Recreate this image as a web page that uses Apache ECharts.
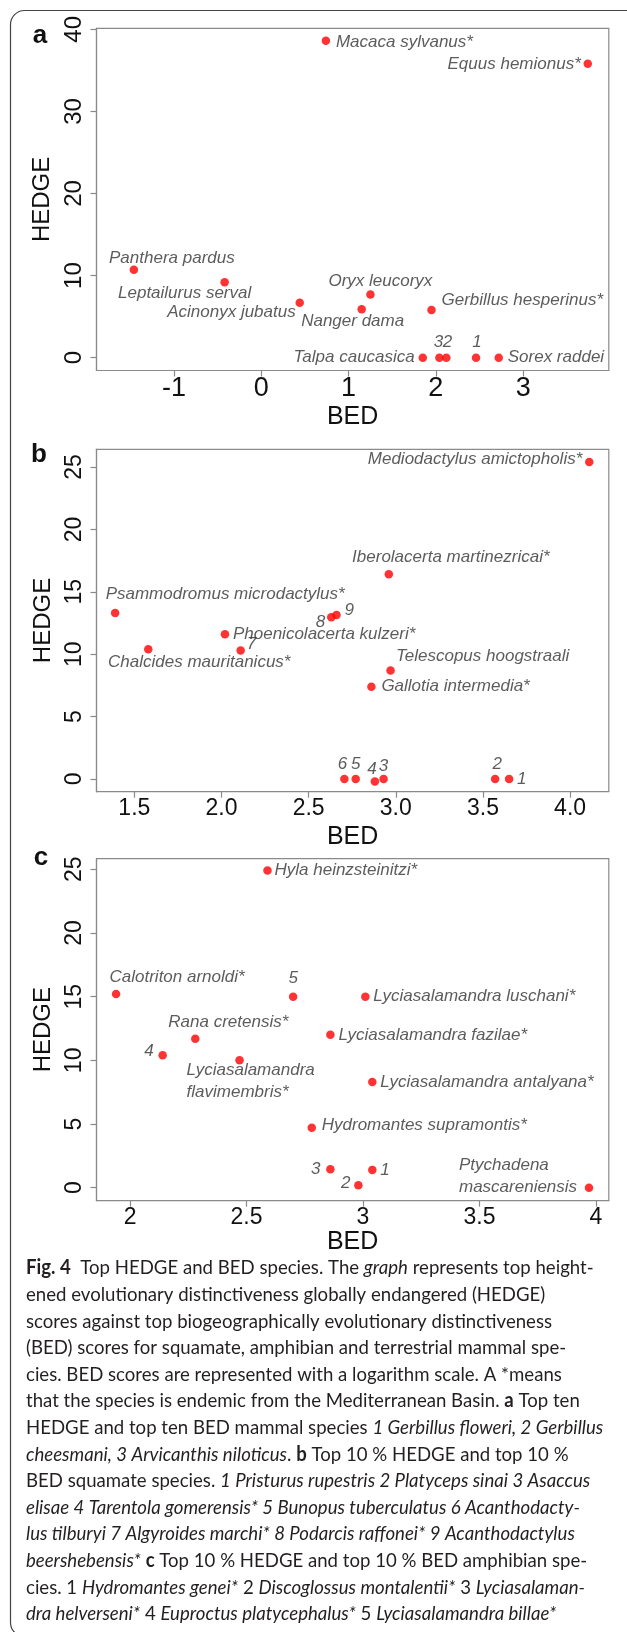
<!DOCTYPE html>
<html><head><meta charset="utf-8">
<script src="https://cdn.jsdelivr.net/npm/echarts@6/dist/echarts.min.js"></script>
<style>html,body{margin:0;padding:0;background:#fff}#c{width:627px;height:1632px}</style>
</head><body><div id="c"></div>
<script>
// ---------- Panel a: mammals ----------
const namesA = ['Macaca sylvanus*','Equus hemionus*','Panthera pardus','Leptailurus serval','Acinonyx jubatus','Oryx leucoryx','Nanger dama','Gerbillus hesperinus*','Talpa caucasica','3','2','1','Sorex raddei'];
const bedA   = [0.74, 3.74, -1.46, -0.42, 0.44, 1.25, 1.15, 1.95, 1.85, 2.04, 2.12, 2.46, 2.72];
const hedgeA = [38.6, 35.8, 10.7, 9.2, 6.7, 7.7, 5.9, 5.8, 0, 0, 0, 0, 0];
// ---------- Panel b: squamates ----------
const namesB = ['Mediodactylus amictopholis*','Iberolacerta martinezricai*','Psammodromus microdactylus*','8','9','Phoenicolacerta kulzeri*','7','Chalcides mauritanicus*','Telescopus hoogstraali','Gallotia intermedia*','6','5','4','3','2','1'];
const bedB   = [4.11, 2.96, 1.39, 2.63, 2.66, 2.02, 2.11, 1.58, 2.97, 2.86, 2.705, 2.77, 2.88, 2.93, 3.57, 3.65];
const hedgeB = [25.4, 16.4, 13.3, 12.96, 13.14, 11.6, 10.3, 10.4, 8.7, 7.4, 0, 0, -0.2, 0, 0, 0];
// ---------- Panel c: amphibians ----------
const namesC = ['Hyla heinzsteinitzi*','Calotriton arnoldi*','5','Lyciasalamandra luschani*','Rana cretensis*','Lyciasalamandra fazilae*','4','Lyciasalamandra\nflavimembris*','Lyciasalamandra antalyana*','Hydromantes supramontis*','3','1','2','Ptychadena\nmascareniensis'];
const bedC   = [2.59, 1.94, 2.70, 3.01, 2.28, 2.86, 2.14, 2.47, 3.04, 2.78, 2.86, 3.04, 2.98, 3.97];
const hedgeC = [24.9, 15.2, 15.0, 15.0, 11.7, 12.0, 10.4, 10.0, 8.3, 4.7, 1.45, 1.4, 0.2, 0];
// ---------- tick labels ----------
const ticksXA = [-1, 0, 1, 2, 3];
const ticksYA = [0, 10, 20, 30, 40];
const ticksXB = [1.5, 2.0, 2.5, 3.0, 3.5, 4.0];
const ticksYB = [0, 5, 10, 15, 20, 25];
const ticksXC = [2, 2.5, 3, 3.5, 4];
const ticksYC = [0, 5, 10, 15, 20, 25];

// ---------- label placement (layout only): [align, dx, dy] ----------
const placeA = [['left',10,1],['right',-7,0],['center',38,-12],['center',-40,11],['right',-4,10],['center',10,-13],['center',-9,12],['left',10,-10],['right',-8,0],['center',-1,-15],['center',1,-15],['center',1,-15],['left',9,0]];
const placeB = [['right',-7,-3],['center',62,-17],['center',110,-19],['right',-6,5],['left',8,-5],['left',8,0],['left',6,-6],['center',51,13],['center',92,-14],['left',10,0],['center',-2,-15],['center',0,-15],['center',-3,-12],['center',0,-13],['center',2,-15],['left',8,0]];
const placeC = [['left',7,0],['center',61,-17],['center',0,-18],['left',8,0],['center',33,-16],['left',8,0],['right',-9,-4],['left',-53,21],['left',8,0],['left',10,-3],['right',-10,0],['left',8,0],['right',-8,-2],['left',-130,-11]];

const AX = '#8a8a8a';
const FONT = "'Liberation Sans', Arial, sans-serif";

function xAxis(i, min, max, ticks, fmt, fs, gap) {
  return {type:'value', gridIndex:i, min, max, name:'BED', nameLocation:'middle', nameGap:gap,
    nameTextStyle:{fontSize:25, color:'#111', fontFamily:FONT},
    axisLine:{show:true, onZero:false, lineStyle:{color:AX, width:1.2}},
    axisTick:{show:true, customValues:ticks, length:6, lineStyle:{color:AX, width:1.2}},
    axisLabel:{customValues:ticks, formatter:fmt, fontSize:fs, color:'#111', margin:5, fontFamily:FONT},
    splitLine:{show:false}};
}
function yAxis(i, min, max, ticks, fs) {
  return {type:'value', gridIndex:i, min, max, name:'HEDGE', nameLocation:'middle', nameGap:40, nameRotate:90,
    nameTextStyle:{fontSize:24, color:'#111', fontFamily:FONT},
    axisLine:{show:true, onZero:false, lineStyle:{color:AX, width:1.2}},
    axisTick:{show:true, customValues:ticks, length:6, lineStyle:{color:AX, width:1.2}},
    axisLabel:{customValues:ticks, rotate:90, fontSize:fs, color:'#111', margin:10, fontFamily:FONT, formatter:v=>String(v)},
    splitLine:{show:false}};
}
function series(i, names, bed, hedge, place) {
  return {type:'scatter', xAxisIndex:i, yAxisIndex:i, symbol:'circle', symbolSize:8.5,
    itemStyle:{color:'#ff0000'},
    label:{show:true, position:[4.25,4.25], formatter:p=>p.name, fontFamily:FONT, fontStyle:'italic',
      fontSize:17, color:'#333', verticalAlign:'middle', lineHeight:22, textBorderWidth:0},
    data: names.map((n,k)=>({name:n, value:[bed[k], hedge[k]],
      label:{align:place[k][0], offset:[place[k][1], place[k][2]]}}))};
}

const capLines = [
 '{b|Fig. 4}{r|  Top HEDGE and BED species. The }{i|graph}{r| represents top height-}',
 '{r|ened evolutionary distinctiveness globally endangered (HEDGE)}',
 '{r|scores against top biogeographically evolutionary distinctiveness}',
 '{r|(BED) scores for squamate, amphibian and terrestrial mammal spe-}',
 '{r|cies. BED scores are represented with a logarithm scale. A *means}',
 '{r|that the species is endemic from the Mediterranean Basin. }{b|a}{r| Top ten}',
 '{r|HEDGE and top ten BED mammal species }{i|1 Gerbillus floweri, 2 Gerbillus}',
 '{i|cheesmani, 3 Arvicanthis niloticus}{r|. }{b|b}{r| Top 10 % HEDGE and top 10 %}',
 '{r|BED squamate species. }{i|1 Pristurus rupestris 2 Platyceps sinai 3 Asaccus}',
 '{i|elisae 4 Tarentola gomerensis* 5 Bunopus tuberculatus 6 Acanthodacty-}',
 '{i|lus tilburyi 7 Algyroides marchi* 8 Podarcis raffonei* 9 Acanthodactylus}',
 '{i|beershebensis*}{r| }{b|c}{r| Top 10 % HEDGE and top 10 % BED amphibian spe-}',
 '{r|cies. 1 }{i|Hydromantes genei*}{r| 2 }{i|Discoglossus montalentii*}{r| 3 }{i|Lyciasalaman-}',
 '{i|dra helverseni*}{r| 4 }{i|Euproctus platycephalus*}{r| 5 }{i|Lyciasalamandra billae*}'
];
const CF = "Lato, 'Noto Sans', sans-serif";
const capFS = 20;
const rich = {
  r:{fontSize:capFS, fontFamily:CF, fill:'#231f20'},
  i:{fontSize:capFS, fontFamily:CF, fontStyle:'italic', fill:'#231f20'},
  b:{fontSize:capFS, fontFamily:CF, fontWeight:'bold', fill:'#231f20'}
};
const graphics = [
  {type:'rect', shape:{x:10.5, y:10.5, width:660, height:1626, r:14}, style:{fill:'none', stroke:'#444', lineWidth:1.2}, silent:true},
  {type:'text', x:40, y:36, style:{text:'a', font:"bold 26px 'Liberation Sans', Arial", fill:'#111', align:'center', verticalAlign:'middle'}},
  {type:'text', x:39, y:455, style:{text:'b', font:"bold 26px 'Liberation Sans', Arial", fill:'#111', align:'center', verticalAlign:'middle'}},
  {type:'text', x:41, y:858, style:{text:'c', font:"bold 26px 'Liberation Sans', Arial", fill:'#111', align:'center', verticalAlign:'middle'}}
];
capLines.forEach((t,k)=>{
  graphics.push({type:'text', x:26, y:1268 + k*26.6, scaleX:0.93,
    style:{text:t, rich, fontSize:capFS, fontFamily:CF, fill:'#231f20', verticalAlign:'middle', align:'left'}});
});

const chart = echarts.init(document.getElementById('c'), null, {renderer:'canvas'});
chart.setOption({
  animation:false,
  backgroundColor:'#fff',
  grid:[
    {left:96.5, top:28.3, width:512.3, height:342.2, show:true, borderColor:AX, borderWidth:1.2},
    {left:96.5, top:449.3, width:512.3, height:342.4, show:true, borderColor:AX, borderWidth:1.2},
    {left:96.5, top:858.7, width:512.3, height:342, show:true, borderColor:AX, borderWidth:1.2}
  ],
  xAxis:[
    xAxis(0, -1.888, 3.981, ticksXA, v=>String(v), 27, 34),
    xAxis(1, 1.283, 4.222, ticksXB, v=>v.toFixed(1), 23, 33),
    xAxis(2, 1.856, 4.055, ticksXC, v=>String(v), 23, 27)
  ],
  yAxis:[
    yAxis(0, -1.56, 40.12, ticksYA, 24),
    yAxis(1, -1.02, 26.42, ticksYB, 23),
    yAxis(2, -1.02, 25.83, ticksYC, 23)
  ],
  series:[
    series(0, namesA, bedA, hedgeA, placeA),
    series(1, namesB, bedB, hedgeB, placeB),
    series(2, namesC, bedC, hedgeC, placeC)
  ],
  graphic: graphics
});
</script>
</body></html>
